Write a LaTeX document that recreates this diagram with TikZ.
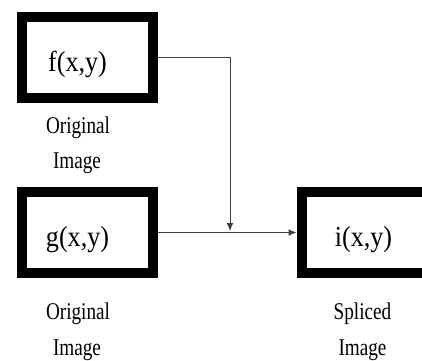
\documentclass[tikz,border=0pt]{standalone}
\usepackage{fontspec}
\setmainfont{Liberation Serif}
\usetikzlibrary{arrows.meta}
\begin{document}
\begin{tikzpicture}[x=1pt,y=-1pt,
  imgbox/.style={draw=black,line width=10pt,fill=white,minimum width=131pt,minimum height=81pt,inner sep=0pt},
  functext/.style={anchor=base,inner sep=0pt,font=\fontsize{29}{29}\selectfont},
  caption/.style={anchor=base,inner sep=0pt,font=\fontsize{24}{24}\selectfont},
  link/.style={draw=black!75,line width=1pt},
  tip/.style={-{Latex[length=8pt,width=7pt]}}]
  \useasboundingbox (0,0) rectangle (422,360);

  % image boxes
  \node[imgbox] (f) at (87.5,57.5) {};
  \node[imgbox] (g) at (87.5,232.5) {};
  \node[imgbox] (i) at (367,232.5) {};

  % box contents
  \node[functext] (ftxt) at (77.5,71) {\scalebox{0.9}[1]{f(x,y)}};
  \node[functext] (gtxt) at (77.5,246) {\scalebox{0.9}[1]{g(x,y)}};
  \node[functext] (itxt) at (363.5,246) {\scalebox{0.9}[1]{i(x,y)}};

  % captions
  \node[caption] (fcap1) at (78,133) {\scalebox{0.8}[1]{Original}};
  \node[caption] (fcap2) at (77,168) {\scalebox{0.8}[1]{Image}};
  \node[caption] (gcap1) at (78,319) {\scalebox{0.8}[1]{Original}};
  \node[caption] (gcap2) at (77,355) {\scalebox{0.8}[1]{Image}};
  \node[caption] (icap1) at (362.5,319) {\scalebox{0.8}[1]{Spliced}};
  \node[caption] (icap2) at (362.5,355) {\scalebox{0.8}[1]{Image}};

  % connectors
  \coordinate (join) at (230,231);
  \draw[link,tip] (f.east) -| (join);
  \draw[link,tip] (g.east) -- (i.west);
\end{tikzpicture}
\end{document}
